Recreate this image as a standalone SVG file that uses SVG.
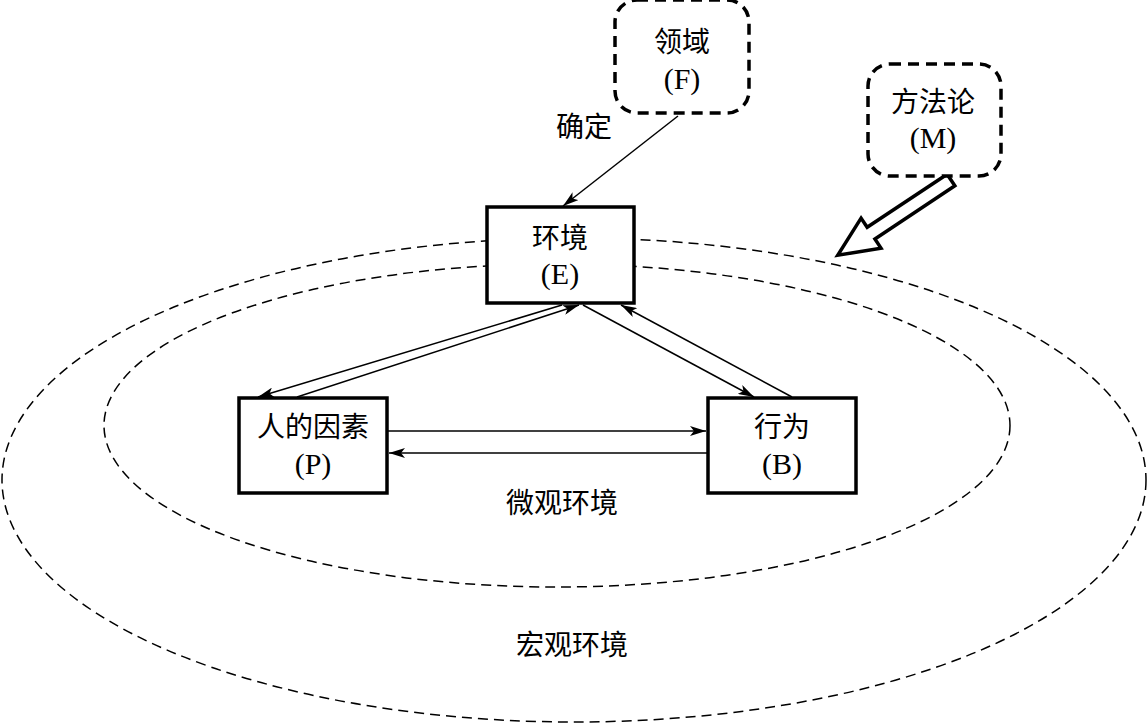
<svg xmlns="http://www.w3.org/2000/svg" width="1148" height="725" viewBox="0 0 1148 725">
<style>
.t{font-family:"Liberation Serif","Noto Sans CJK SC",serif;font-size:28px;fill:#000;text-anchor:middle}
.l{font-size:30px}
.box{fill:#fff;stroke:#000;stroke-width:3.5}
.dbox{fill:#fff;stroke:#000;stroke-width:3.5;stroke-dasharray:11 7}
.ell{fill:none;stroke:#000;stroke-width:1.5;stroke-dasharray:10 6}
.ln{fill:none;stroke:#000;stroke-width:1.5;marker-end:url(#ah)}
</style>
<defs>
<marker id="ah" viewBox="0 0 16 10" refX="16" refY="5" markerWidth="16" markerHeight="10" markerUnits="userSpaceOnUse" orient="auto">
<path d="M0,0 L16,5 L0,10 L4,5 z" fill="#000"/>
</marker>
</defs>
<rect width="1148" height="725" fill="#fff"/>
<g id="macro-env">
<ellipse class="ell" cx="574" cy="480" rx="572" ry="242"/>
<text class="t" x="572" y="655">宏观环境</text>
</g>
<g id="micro-env">
<ellipse class="ell" cx="557" cy="425.5" rx="453" ry="161.5"/>
<text class="t" x="562" y="513">微观环境</text>
</g>
<g id="connectors">
<line class="ln" x1="678" y1="116" x2="563" y2="206"/>
<line class="ln" x1="562" y1="305" x2="258" y2="397"/>
<line class="ln" x1="297" y1="397" x2="579" y2="305"/>
<line class="ln" x1="583" y1="305" x2="754" y2="397"/>
<line class="ln" x1="792" y1="397" x2="621" y2="305"/>
<line class="ln" x1="388" y1="431" x2="706" y2="431"/>
<line class="ln" x1="707" y1="453" x2="389" y2="453"/>
<polygon fill="#fff" stroke="#000" stroke-width="3.5" stroke-linejoin="miter" transform="translate(951,180) rotate(146.4)" points="0,-7 96,-7 96,-18 136,0 96,18 96,7 0,7"/>
<text class="t" x="584" y="137">确定</text>
</g>
<g id="node-E">
<rect class="box" x="487" y="207" width="147" height="96"/>
<text class="t" x="560" y="248">环境</text>
<text class="t l" x="560" y="284">(E)</text>
</g>
<g id="node-P">
<rect class="box" x="239" y="398" width="148" height="95"/>
<text class="t" x="313" y="437">人的因素</text>
<text class="t l" x="313" y="474">(P)</text>
</g>
<g id="node-B">
<rect class="box" x="708" y="398" width="148" height="95"/>
<text class="t" x="782" y="437">行为</text>
<text class="t l" x="782" y="474">(B)</text>
</g>
<g id="node-F">
<rect class="dbox" x="615" y="0" width="134" height="113" rx="22"/>
<text class="t" x="682" y="52">领域</text>
<text class="t l" x="682" y="89">(F)</text>
</g>
<g id="node-M">
<rect class="dbox" x="868" y="64" width="133" height="112" rx="22"/>
<text class="t" x="933" y="112">方法论</text>
<text class="t l" x="933" y="148">(M)</text>
</g>
</svg>
